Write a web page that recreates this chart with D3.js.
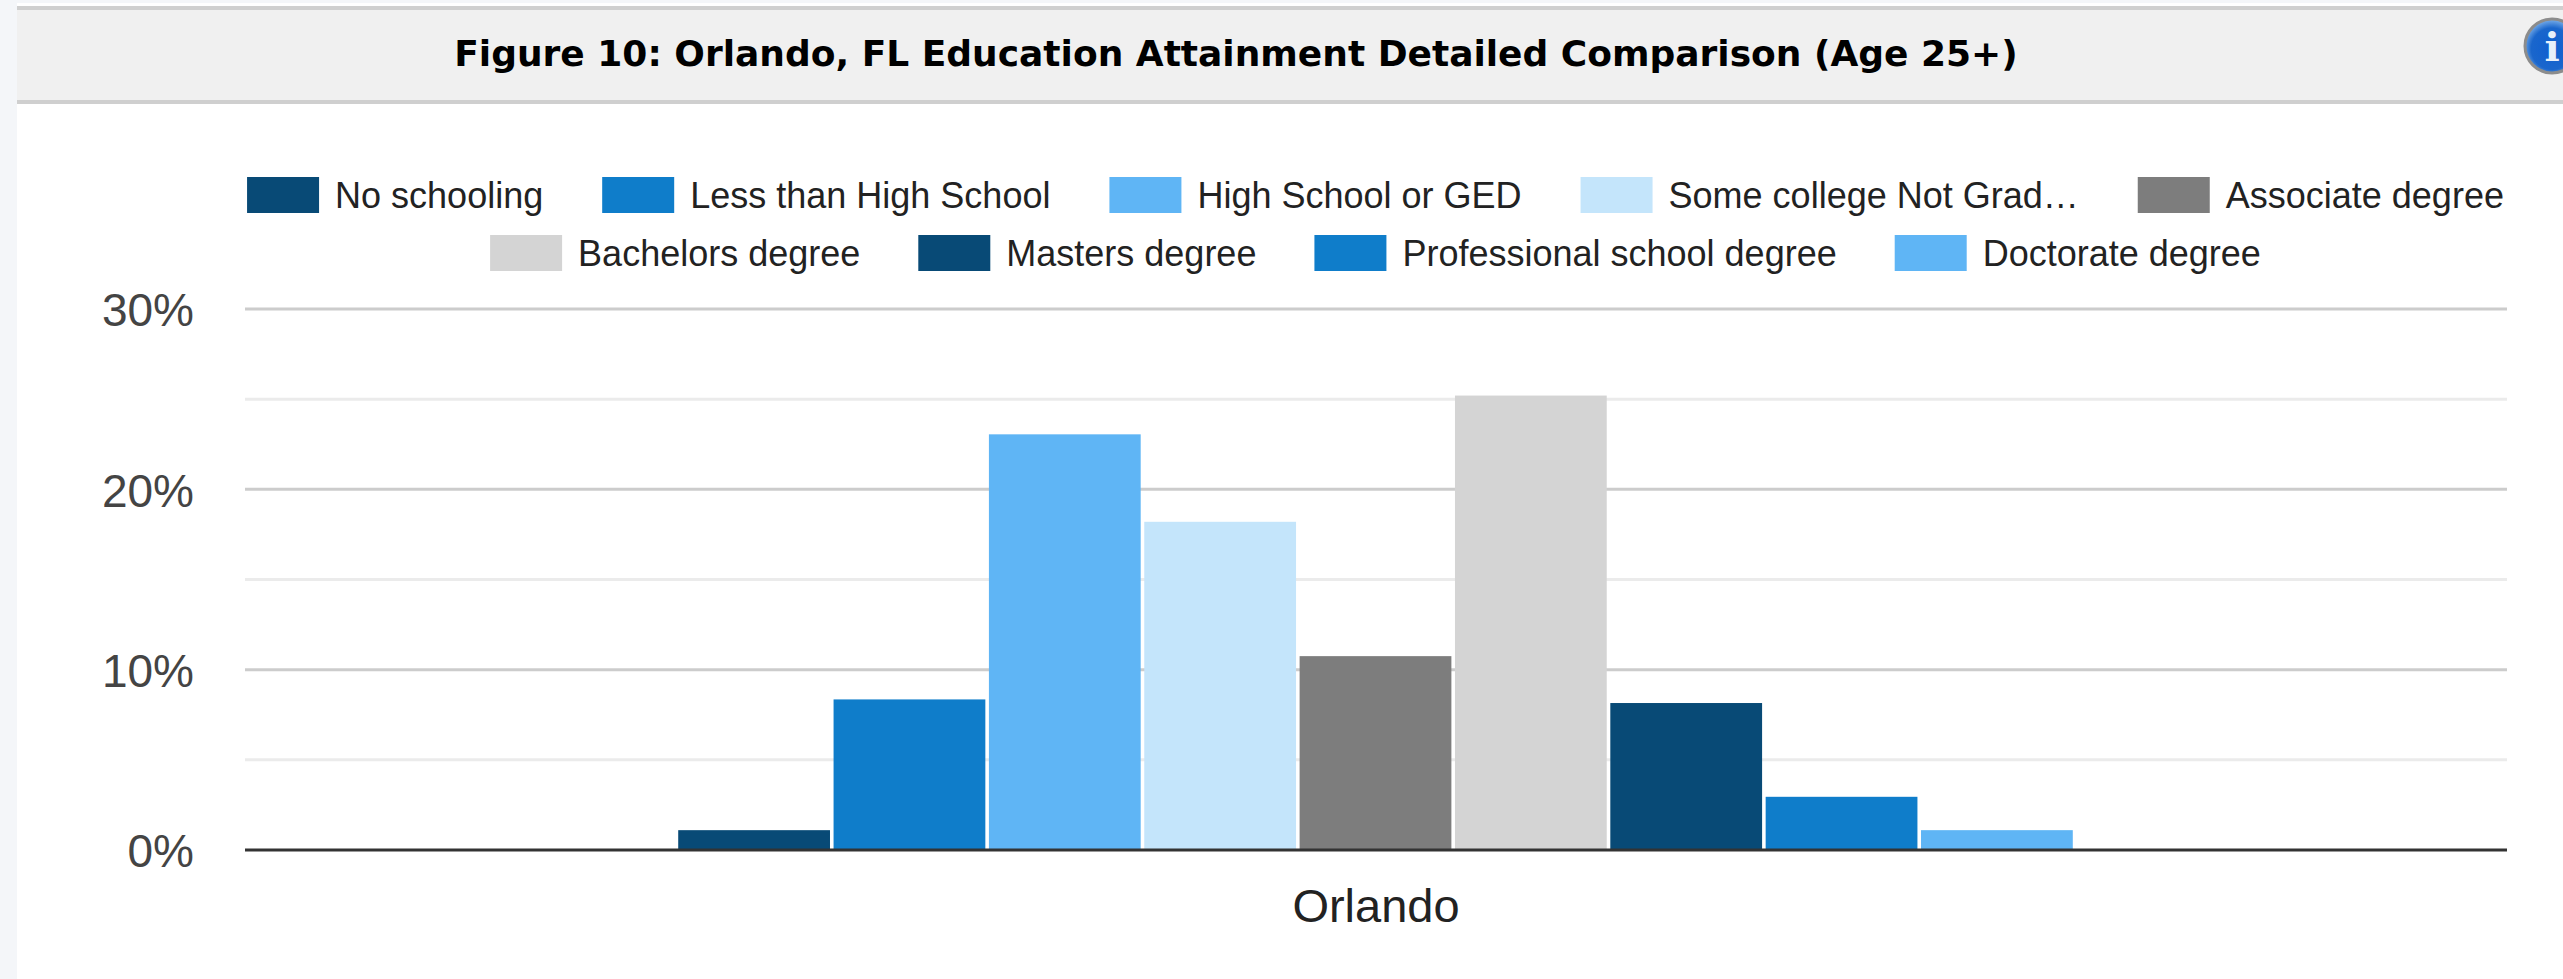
<!DOCTYPE html>
<html>
<head>
<meta charset="utf-8">
<title>Figure 10</title>
<script src="https://cdn.jsdelivr.net/npm/d3@7"></script>
<style>
	html, body { margin: 0; padding: 0; background: #f4f6f9; overflow: hidden; }
	svg { display: block; }
	text { font-family: "Liberation Sans", Arial, sans-serif; }
</style>
</head>
<body>
<svg id="chart" width="2563" height="979"></svg>
<script>
/* global d3 */

// values, percent of population age 25+
const titleText = 'Figure 10: Orlando, FL Education Attainment Detailed Comparison (Age 25+)';
const category = 'Orlando';
const seriesNames = ['No schooling', 'Less than High School', 'High School or GED', 'Some college Not Graduated',
	'Associate degree', 'Bachelors degree', 'Masters degree', 'Professional school degree', 'Doctorate degree'];
const legendLabels = ['No schooling', 'Less than High School', 'High School or GED', 'Some college Not Grad\u2026',
	'Associate degree', 'Bachelors degree', 'Masters degree', 'Professional school degree', 'Doctorate degree'];
const seriesValues = [1.1, 8.35, 23.05, 18.2, 10.75, 25.2, 8.15, 2.95, 1.1];
const seriesColors = ['#084a76', '#0f7dca', '#5fb5f5', '#c4e5fb', '#7d7d7d', '#d4d4d4', '#084a76', '#0f7dca', '#5fb5f5'];
const majorTicks = [0, 10, 20, 30];
const minorTicks = [5, 15, 25];

const margin = {left: 245, right: 2507, top: 309, bottom: 850},
	svg = d3.select('#chart');

// page panel
svg.append('rect').attr('x', 17).attr('y', 3).attr('width', 2546).attr('height', 976).attr('fill', '#fff');

// title band
svg.append('rect').attr('x', 17).attr('y', 8).attr('width', 2546).attr('height', 94)
	.attr('fill', '#f0f0f0');
svg.append('line').attr('x1', 17).attr('x2', 2563).attr('y1', 8).attr('y2', 8)
	.attr('stroke', '#cfcfcf').attr('stroke-width', 4);
svg.append('line').attr('x1', 17).attr('x2', 2563).attr('y1', 102).attr('y2', 102)
	.attr('stroke', '#cfcfcf').attr('stroke-width', 4);
svg.append('text')
	.attr('x', 1236)
	.attr('y', 66)
	.attr('text-anchor', 'middle')
	.style('font-family', '"DejaVu Sans", Verdana, sans-serif')
	.style('font-weight', 'bold')
	.style('font-size', '36px')
	.attr('fill', '#000')
	.text(titleText);

// info icon, runs off the right edge
const defs = svg.append('defs');
const grad = defs.append('radialGradient').attr('id', 'infoBlue').attr('cx', '50%').attr('cy', '55%').attr('r', '55%');
grad.append('stop').attr('offset', '0%').attr('stop-color', '#0f5fd0');
grad.append('stop').attr('offset', '70%').attr('stop-color', '#1a66cc');
grad.append('stop').attr('offset', '100%').attr('stop-color', '#7fb2ea');
const icon = svg.append('g').attr('transform', 'translate(2552,46)');
icon.append('circle').attr('r', 27).attr('fill', 'url(#infoBlue)').attr('stroke', '#8c8c8c').attr('stroke-width', 3);
icon.append('text')
	.attr('text-anchor', 'middle')
	.attr('y', 15)
	.style('font-family', '"DejaVu Serif", serif')
	.style('font-weight', 'bold')
	.style('font-size', '40px')
	.attr('fill', '#e8f0fa')
	.text('i');

// scales
const y = d3.scaleLinear().domain([0, 30]).range([margin.bottom, margin.top]);
const x0 = d3.scaleBand().domain([category]).range([margin.left, margin.right]).paddingOuter(0.311).paddingInner(0);
const x1 = d3.scaleBand().domain(seriesNames).range([0, x0.bandwidth()]).paddingInner(0.023).paddingOuter(0);

// gridlines
svg.append('g').selectAll('line')
	.data(minorTicks)
	.enter().append('line')
		.attr('x1', margin.left)
		.attr('x2', margin.right)
		.attr('y1', function(d) { return y(d); })
		.attr('y2', function(d) { return y(d); })
		.attr('stroke', '#ebebeb')
		.attr('stroke-width', 3);

svg.append('g').selectAll('line')
	.data(majorTicks.filter(function(d) { return d !== 0; }))
	.enter().append('line')
		.attr('x1', margin.left)
		.attr('x2', margin.right)
		.attr('y1', function(d) { return y(d); })
		.attr('y2', function(d) { return y(d); })
		.attr('stroke', '#cccccc')
		.attr('stroke-width', 3);

// bars
svg.append('g')
	.attr('transform', 'translate(' + (x0(category) - 0.5) + ',0)')
	.selectAll('rect')
	.data(seriesValues)
	.enter().append('rect')
		.attr('x', function(d, i) { return x1(seriesNames[i]); })
		.attr('y', function(d) { return y(d); })
		.attr('width', x1.bandwidth())
		.attr('height', function(d) { return y(0) - y(d); })
		.attr('fill', function(d, i) { return seriesColors[i]; });

// baseline
svg.append('line')
	.attr('x1', margin.left)
	.attr('x2', margin.right)
	.attr('y1', y(0))
	.attr('y2', y(0))
	.attr('stroke', '#333')
	.attr('stroke-width', 3);

// y axis
const yAxis = svg.append('g')
	.attr('transform', 'translate(' + margin.left + ',0)')
	.call(d3.axisLeft(y).tickValues(majorTicks).tickFormat(function(d) { return d + '%'; }).tickSize(0).tickPadding(51));
yAxis.select('.domain').remove();
yAxis.selectAll('text')
	.attr('y', 2)
	.style('font-family', '"Liberation Sans", Arial, sans-serif')
	.style('font-size', '46px')
	.attr('fill', '#444');

// x axis
const xAxis = svg.append('g')
	.attr('transform', 'translate(0,' + y(0) + ')')
	.call(d3.axisBottom(x0).tickSize(0).tickPadding(0));
xAxis.select('.domain').remove();
xAxis.selectAll('text')
	.attr('y', 72)
	.attr('dy', 0)
	.style('font-family', '"Liberation Sans", Arial, sans-serif')
	.style('font-size', '47px')
	.attr('fill', '#222');

// legend, two centred rows
function legendRow(first, last, swatchTop, gap) {
	const row = svg.append('g'),
		swatch = 72,
		textGap = 16;
	let cursor = 0;

	for (let index = first; index < last; index++) {
		const item = row.append('g').attr('transform', 'translate(' + cursor + ',0)');
		item.append('rect')
			.attr('y', swatchTop)
			.attr('width', swatch)
			.attr('height', 36)
			.attr('fill', seriesColors[index]);
		const label = item.append('text')
			.attr('x', swatch + textGap)
			.attr('y', swatchTop + 31)
			.style('font-size', '36px')
			.attr('fill', '#222')
			.text(legendLabels[index]);
		cursor += swatch + textGap + label.node().getComputedTextLength() + gap;
	}
	cursor -= gap;
	row.attr('transform', 'translate(' + (1375.5 - cursor / 2) + ',0)');
}

legendRow(0, 5, 177, 59);
legendRow(5, 9, 235, 58);
</script>
</body>
</html>
